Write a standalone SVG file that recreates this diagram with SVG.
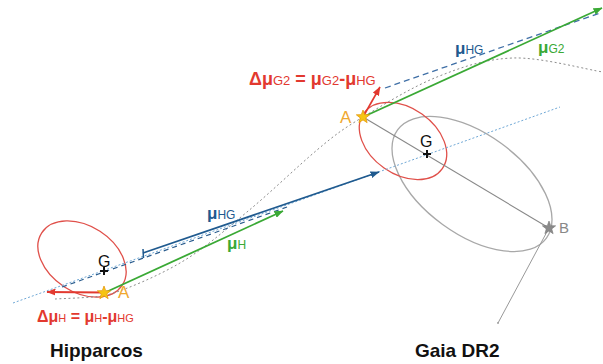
<svg xmlns="http://www.w3.org/2000/svg" width="603" height="364" viewBox="0 0 603 364">
<style>
  text { font-family: "Liberation Sans", Arial, Helvetica, sans-serif; }
  .big { font-weight: bold; }
  .red { fill: #e2392f; }
  .blue { fill: #1f5a8f; }
  .green { fill: #3aa935; }
  .lbl-a { fill: #f0a830; font-size: 17px; }
  .title { font-weight: bold; font-size: 19px; fill: #111; }
  .plus { stroke: #111; stroke-width: 2; fill: none; }
  .star-gold { fill: #f6c412; stroke: #e69a10; stroke-width: 0.8; }
  .star-gray { fill: #8a8a8a; stroke: #777; stroke-width: 0.6; }
</style>
<defs>
  <polygon id="star" points="0,-7 1.7,-2.35 6.66,-2.16 2.76,0.9 4.11,5.66 0,2.9 -4.11,5.66 -2.76,0.9 -6.66,-2.16 -1.7,-2.35"/>
  <marker id="ah-green" markerWidth="9" markerHeight="7" refX="8.5" refY="3.5" orient="auto" markerUnits="userSpaceOnUse"><path d="M0,0 L9,3.5 L0,7 z" fill="#3aa935"/></marker>
  <marker id="ah-blue" markerWidth="9" markerHeight="7" refX="8.5" refY="3.5" orient="auto" markerUnits="userSpaceOnUse"><path d="M0,0 L9,3.5 L0,7 z" fill="#1f5a8f"/></marker>
  <marker id="ah-red" markerWidth="9" markerHeight="7" refX="8.5" refY="3.5" orient="auto" markerUnits="userSpaceOnUse"><path d="M0,0 L9,3.5 L0,7 z" fill="#e2392f"/></marker>
</defs>
<rect width="603" height="364" fill="#ffffff"/>

<!-- ellipses (nodes) -->
<g id="hip-ellipse"><ellipse cx="82" cy="259" rx="48" ry="33" transform="rotate(33 82 259)" fill="none" stroke="#e0504a" stroke-width="1.3"/></g>
<g id="gaia-ellipse-gray"><ellipse cx="472" cy="184" rx="92" ry="50" transform="rotate(36 472 184)" fill="none" stroke="#a8a8a8" stroke-width="1.3"/></g>
<g id="gaia-ellipse-red"><ellipse cx="403" cy="141" rx="48" ry="33" transform="rotate(35 403 141)" fill="none" stroke="#e0504a" stroke-width="1.3"/></g>

<g id="connectors">
  <!-- light blue dotted line through G's -->
  <line x1="13" y1="303" x2="560" y2="107" stroke="#6fa8d6" stroke-width="1" stroke-dasharray="2 2"/>
  <!-- orbit dotted curve -->
  <path d="M55,299 C63,298.5 85,298 104,296 C125,290 156,277 180,263 C204,249 224,231 247,212 C270,193 298,166 317,150 C336,134 343,129 363,117 C383,105 412,87 437,77 C462,67 485,59 513,58 C541,57 588,70 603,72" fill="none" stroke="#8c8c8c" stroke-width="1" stroke-dasharray="2 2.5"/>
  <!-- dark blue dashed (lower) -->
  <line x1="62" y1="287" x2="287" y2="207" stroke="#2b5d8e" stroke-width="1.2" stroke-dasharray="5 4"/>
  <!-- dark blue dashed (upper) -->
  <line x1="385" y1="88" x2="600" y2="13" stroke="#3f6fa6" stroke-width="1.3" stroke-dasharray="6 4"/>
  <!-- mu_HG solid with start tick -->
  <line x1="143" y1="253" x2="379" y2="172" stroke="#1f5a8f" stroke-width="1.8" marker-end="url(#ah-blue)"/>
  <line x1="143" y1="249" x2="143.5" y2="258" stroke="#1f5a8f" stroke-width="1.5"/>
  <!-- mu_H green -->
  <line x1="104" y1="293" x2="283" y2="211" stroke="#3aa935" stroke-width="1.8" marker-end="url(#ah-green)"/>
  <!-- mu_G2 green -->
  <line x1="363" y1="117" x2="602" y2="8" stroke="#3aa935" stroke-width="1.8" marker-end="url(#ah-green)"/>
  <!-- delta mu H red -->
  <line x1="104" y1="292.5" x2="47" y2="292" stroke="#e2392f" stroke-width="2" marker-end="url(#ah-red)"/>
  <!-- delta mu G2 red -->
  <line x1="363" y1="117" x2="380" y2="87" stroke="#e2392f" stroke-width="1.6" marker-end="url(#ah-red)"/>
  <!-- gray line A-G-B -->
  <line x1="363" y1="117" x2="549" y2="228" stroke="#888" stroke-width="1.1"/>
  <!-- gray line from B downward -->
  <line x1="549" y1="228" x2="498" y2="323" stroke="#999" stroke-width="1"/>
  <circle cx="498" cy="323" r="0.9" fill="#999"/>
</g>

<g id="hip-G">
  <text x="98" y="267" font-size="16" fill="#111">G</text>
  <path class="plus" d="M100,271 H108 M104,267 V275"/>
</g>
<g id="hip-A">
  <use href="#star" x="104" y="293" class="star-gold"/>
  <text x="118" y="298" class="lbl-a">A</text>
</g>
<g id="gaia-G">
  <text x="420" y="147" font-size="16" fill="#111">G</text>
  <path class="plus" d="M423,154 H431 M427,150 V158"/>
</g>
<g id="gaia-A">
  <use href="#star" x="363" y="117" class="star-gold"/>
  <text x="340" y="123" class="lbl-a">A</text>
</g>
<g id="gaia-B">
  <use href="#star" x="549" y="228" class="star-gray"/>
  <text x="559" y="233" font-size="15" fill="#888">B</text>
</g>

<g id="labels">
  <text x="207" y="219" class="blue"><tspan font-size="17" font-weight="bold">μ</tspan><tspan font-size="12">HG</tspan></text>
  <text x="227" y="249" class="green"><tspan font-size="17" font-weight="bold">μ</tspan><tspan font-size="12">H</tspan></text>
  <text x="455" y="54" class="blue"><tspan font-size="17" font-weight="bold">μ</tspan><tspan font-size="12">HG</tspan></text>
  <text x="538" y="53" class="green"><tspan font-size="17" font-weight="bold">μ</tspan><tspan font-size="12">G2</tspan></text>
  <text x="249" y="85" class="red big"><tspan font-size="18">Δμ</tspan><tspan font-size="13" font-weight="normal">G2</tspan><tspan font-size="18"> = μ</tspan><tspan font-size="13" font-weight="normal">G2</tspan><tspan font-size="18">-μ</tspan><tspan font-size="13" font-weight="normal">HG</tspan></text>
  <text x="37" y="322" class="red big"><tspan font-size="16">Δμ</tspan><tspan font-size="11" font-weight="normal">H</tspan><tspan font-size="16"> = μ</tspan><tspan font-size="11" font-weight="normal">H</tspan><tspan font-size="16">-μ</tspan><tspan font-size="11" font-weight="normal">HG</tspan></text>
  <text x="50" y="357" class="title">Hipparcos</text>
  <text x="415" y="357" class="title">Gaia DR2</text>
</g>
</svg>
